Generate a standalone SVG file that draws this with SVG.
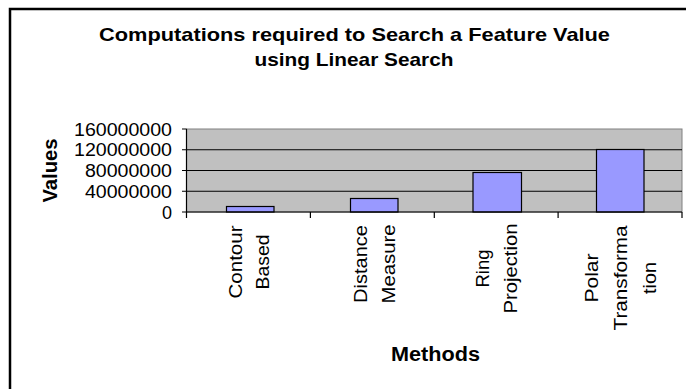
<svg xmlns="http://www.w3.org/2000/svg" width="686" height="389" viewBox="0 0 686 389">
  <style>
    .t { font-family: "Liberation Sans", Arial, sans-serif; fill: #000; }
    .b { font-weight: bold; }
    .ylab { font-size: 18px; text-anchor: end; }
    .cat { font-size: 19px; text-anchor: middle; }
    .grid { stroke: #000; stroke-width: 1; }
    .bar { fill: #9999FF; stroke: #000; stroke-width: 1.2; }
    .axis { stroke: #000; stroke-width: 1.2; fill: none; }
  </style>
  <rect x="0" y="0" width="686" height="389" fill="#fff"/>
  <rect id="frame" x="10" y="9" width="700" height="400" fill="none" stroke="#000" stroke-width="2.5"/>

  <g id="title" class="t b" font-size="18.5" text-anchor="middle">
    <text x="354.5" y="40.5" textLength="511" lengthAdjust="spacingAndGlyphs">Computations required to Search a Feature Value</text>
    <text x="354" y="66" textLength="199" lengthAdjust="spacingAndGlyphs">using Linear Search</text>
  </g>

  <g id="plot">
    <rect x="186.5" y="129" width="495.5" height="83" fill="#C0C0C0" stroke="#808080" stroke-width="1"/>
    <line class="grid" x1="186.5" y1="149.75" x2="682" y2="149.75"/>
    <line class="grid" x1="186.5" y1="170.5" x2="682" y2="170.5"/>
    <line class="grid" x1="186.5" y1="191.25" x2="682" y2="191.25"/>
  </g>

  <g id="bars">
    <rect class="bar" x="226.5" y="206.5" width="47.5" height="5.5"/>
    <rect class="bar" x="350.5" y="198.5" width="47.5" height="13.5"/>
    <rect class="bar" x="473" y="172.5" width="48.5" height="39.5"/>
    <rect class="bar" x="596.5" y="149.5" width="47.5" height="62.5"/>
  </g>

  <g id="axes">
    <path class="axis" d="M186.5 129 V212 H682"/>
    <path class="axis" d="M182 129 H186.5 M182 149.75 H186.5 M182 170.5 H186.5 M182 191.25 H186.5 M182 212 H186.5"/>
    <path class="axis" d="M186.5 212 V218 M310.4 212 V218 M434.3 212 V218 M558.1 212 V218 M682 212 V218"/>
  </g>

  <g id="y-labels" class="t ylab">
    <text x="172" y="135.5" textLength="98" lengthAdjust="spacingAndGlyphs">160000000</text>
    <text x="172" y="156" textLength="98" lengthAdjust="spacingAndGlyphs">120000000</text>
    <text x="172" y="177" textLength="87" lengthAdjust="spacingAndGlyphs">80000000</text>
    <text x="172" y="197.5" textLength="87" lengthAdjust="spacingAndGlyphs">40000000</text>
    <text x="172" y="218.5">0</text>
  </g>

  <g id="y-title" class="t b">
    <text transform="translate(56.5,170.5) rotate(-90)" font-size="19.5" text-anchor="middle" textLength="64" lengthAdjust="spacingAndGlyphs">Values</text>
  </g>

  <g id="categories" class="t cat">
    <g id="cat-contour">
      <text transform="translate(242,262) rotate(-90)" textLength="73" lengthAdjust="spacingAndGlyphs">Contour</text>
      <text transform="translate(269,262) rotate(-90)" textLength="55" lengthAdjust="spacingAndGlyphs">Based</text>
    </g>
    <g id="cat-distance">
      <text transform="translate(367,264) rotate(-90)" textLength="78" lengthAdjust="spacingAndGlyphs">Distance</text>
      <text transform="translate(395,264) rotate(-90)" textLength="79" lengthAdjust="spacingAndGlyphs">Measure</text>
    </g>
    <g id="cat-ring">
      <text transform="translate(488.5,268.5) rotate(-90)" textLength="38" lengthAdjust="spacingAndGlyphs">Ring</text>
      <text transform="translate(516.5,268.5) rotate(-90)" textLength="90" lengthAdjust="spacingAndGlyphs">Projection</text>
    </g>
    <g id="cat-polar">
      <text transform="translate(598,278) rotate(-90)" textLength="49" lengthAdjust="spacingAndGlyphs">Polar</text>
      <text transform="translate(626.5,278) rotate(-90)" textLength="105" lengthAdjust="spacingAndGlyphs">Transforma</text>
      <text transform="translate(656,278) rotate(-90)" textLength="32" lengthAdjust="spacingAndGlyphs">tion</text>
    </g>
  </g>

  <g id="x-title" class="t b">
    <text x="435.5" y="360.5" font-size="19.5" text-anchor="middle" textLength="89" lengthAdjust="spacingAndGlyphs">Methods</text>
  </g>
</svg>
